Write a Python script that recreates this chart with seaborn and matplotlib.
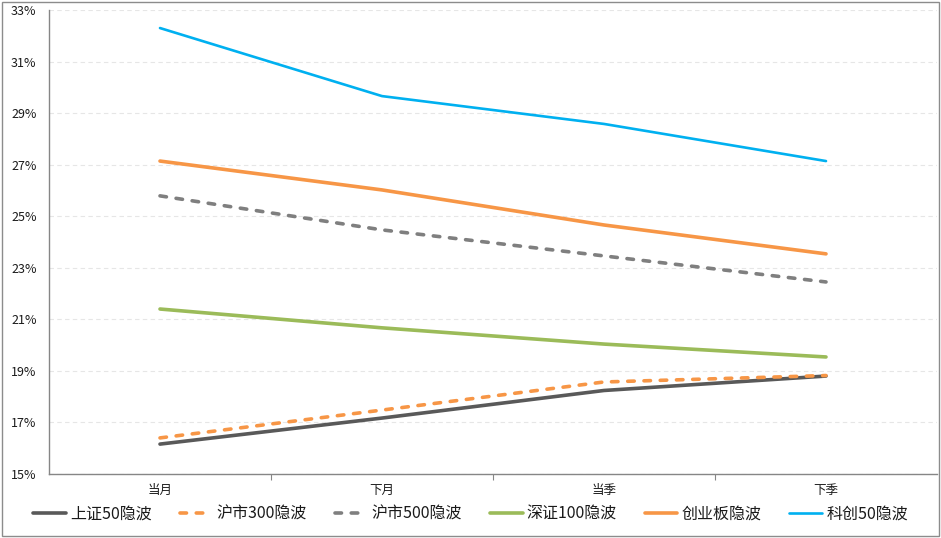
import matplotlib
matplotlib.use("Agg")
import matplotlib.pyplot as plt
import seaborn as sns
import pandas as pd
from matplotlib.ticker import FixedLocator, FuncFormatter
from matplotlib.patches import Rectangle

categories = ["当月", "下月", "当季", "下季"]
series_names = ["上证50隐波", "沪市300隐波", "沪市500隐波", "深证100隐波", "创业板隐波", "科创50隐波"]
sz50 = [16.16, 17.17, 18.24, 18.80]
hs300 = [16.40, 17.48, 18.57, 18.82]
hs500 = [25.79, 24.47, 23.46, 22.45]
sz100 = [21.40, 20.67, 20.04, 19.54]
cyb = [27.14, 26.02, 24.66, 23.54]
kc50 = [32.30, 29.66, 28.58, 27.14]
y_ticks = [15, 17, 19, 21, 23, 25, 27, 29, 31, 33]

values = [sz50, hs300, hs500, sz100, cyb, kc50]
colors = ["#595959", "#F79646", "#7F7F7F", "#9BBB59", "#F79646", "#00B0F0"]
dashed = [False, True, True, False, False, False]
widths = [2.6, 2.6, 2.6, 2.6, 2.6, 1.9]

sns.set_theme(style="white")
plt.rcParams['font.family'] = ['Noto Sans CJK SC', 'DejaVu Sans']

fig = plt.figure(figsize=(9.41, 5.38), dpi=100)
ax = fig.add_axes([49/941, 1-474/538, (937-49)/941, (474-10)/538])

for name, vals, c, d, w in zip(series_names, values, colors, dashed, widths):
    df = pd.DataFrame({"cat": categories, "v": vals})
    sns.lineplot(data=df, x="cat", y="v", ax=ax, color=c, lw=w, label=name,
                 sort=False, solid_capstyle="round", dash_capstyle="round")
    line = ax.lines[-1]
    if d:
        line.set_dashes((1.8, 2.7))
        line.set_dash_capstyle("round")

ax.set_xlim(-0.5, 3.5)
ax.set_ylim(15, 33)
ax.set_xlabel("")
ax.set_ylabel("")
ax.yaxis.set_major_locator(FixedLocator(y_ticks))
ax.yaxis.set_major_formatter(FuncFormatter(lambda v, p: f"{v:.0f}%"))
ax.grid(axis="y", color="#E6E6E6", linestyle=(0, (4, 3)), linewidth=0.8)
ax.grid(axis="x", visible=False)
ax.tick_params(axis="y", length=0, pad=9, labelsize=9, labelcolor="#1a1a1a")
ax.tick_params(axis="x", which="major", length=0, pad=7, labelsize=9, labelcolor="#1a1a1a")
ax.xaxis.set_minor_locator(FixedLocator([0.5, 1.5, 2.5]))
ax.tick_params(axis="x", which="minor", length=4, width=0.8, color="#868686", direction="out", bottom=True)
for s in ["top", "right"]:
    ax.spines[s].set_visible(False)
for s in ["left", "bottom"]:
    ax.spines[s].set_color("#868686")
    ax.spines[s].set_linewidth(1.0)

ax.get_legend().remove()
handles, labels = ax.get_legend_handles_labels()
leg = fig.legend(handles, labels, ncol=6, loc="center", bbox_to_anchor=(0.5, 0.045),
                 frameon=False, fontsize=11.5, handlelength=2.05, handletextpad=0.25,
                 columnspacing=1.75)
for t in leg.get_texts():
    t.set_color("#1a1a1a")

fig.patches.append(Rectangle((0.002, 0.004), 0.996, 0.992, transform=fig.transFigure,
                             fill=False, edgecolor="#8c8c8c", linewidth=1.0))

fig.savefig("out.png", dpi=100)
